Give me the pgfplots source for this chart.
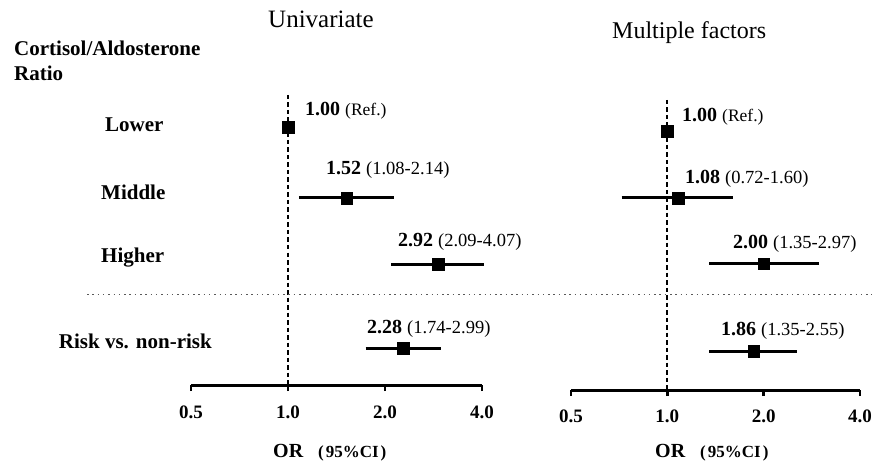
\documentclass[border=0pt]{standalone}
\usepackage{fontspec}
\setmainfont{Liberation Serif}
\usepackage{pgfplots}
\pgfplotsset{compat=1.18}
\newcommand{\fs}[1]{\fontsize{#1}{#1}\selectfont}
\newcommand{\ortitle}{\fs{20}\bfseries OR{\fs{17}\hspace{15pt}(\hspace{2pt}95\%CI\hspace{2pt})}}
\begin{document}
\begin{tikzpicture}
\path[use as bounding box] (0,0) rectangle (875pt,-462pt);
% ---------- Univariate ----------
\begin{axis}[at={(191pt,-385pt)}, anchor=south west,
  scale only axis, clip=false,
  xmode=log, log basis x=2, xmin=0.5, xmax=4,
  axis x line*=bottom, axis y line=none,
  xtick={0.5,1,2,4}, xticklabels={0.5,1.0,2.0,4.0}, minor xtick={},
  tick align=outside, major tick length=6pt,
  x axis line style={line width=3pt, black},
  every tick/.style={line width=2.4pt, black},
  xticklabel style={font=\fs{19}\bfseries, anchor=base, inner sep=0pt, yshift=-27pt},
  width=291pt, height=290pt, ymin=-385, ymax=-95]
\addplot[black, line width=2pt, dash pattern=on 4.5pt off 3pt] coordinates {(1,-95) (1,-385)};
\addplot[black, line width=3pt] coordinates {(1.08,-198) (2.14,-198)};
\addplot[black, line width=3pt] coordinates {(2.09,-264) (4.07,-264)};
\addplot[black, line width=3pt] coordinates {(1.74,-348) (2.99,-348)};
\addplot[only marks, mark=square*, mark size=5.8pt, black] coordinates {(1.00,-127) (1.52,-198) (2.92,-264) (2.28,-348)};
\end{axis}
% ---------- Multiple factors ----------
\begin{axis}[at={(571pt,-390pt)}, anchor=south west,
  scale only axis, clip=false,
  xmode=log, log basis x=2, xmin=0.5, xmax=4,
  axis x line*=bottom, axis y line=none,
  xtick={0.5,1,2,4}, xticklabels={0.5,1.0,2.0,4.0}, minor xtick={},
  tick align=outside, major tick length=6pt,
  x axis line style={line width=3pt, black},
  every tick/.style={line width=2.4pt, black},
  xticklabel style={font=\fs{19}\bfseries, anchor=base, inner sep=0pt, yshift=-26pt},
  width=289pt, height=290pt, ymin=-390, ymax=-100]
\addplot[black, line width=2pt, dash pattern=on 4.5pt off 3pt] coordinates {(1,-100) (1,-390)};
\addplot[black, line width=3pt] coordinates {(0.72,-198) (1.60,-198)};
\addplot[black, line width=3pt] coordinates {(1.35,-263.5) (2.97,-263.5)};
\addplot[black, line width=3pt] coordinates {(1.35,-351) (2.55,-351)};
\addplot[only marks, mark=square*, mark size=5.8pt, black] coordinates {(1.00,-131) (1.08,-198) (2.00,-263.5) (1.86,-351)};
\end{axis}
% separator
\draw[black!65, line width=1.5pt, dash pattern=on 1.5pt off 3.8pt] (87pt,-294.5pt) -- (872pt,-294.5pt);
% titles
\node[anchor=base west, inner sep=0] at (268pt,-28pt) {\fs{25}Univariate};
\node[anchor=base west, inner sep=0] at (612pt,-39pt) {\fs{24}Multiple factors};
% row labels
\node[anchor=base west, inner sep=0] at (14pt,-56pt) {\fs{21}\bfseries Cortisol/Aldosterone};
\node[anchor=base west, inner sep=0] at (14pt,-81pt) {\fs{21}\bfseries Ratio};
\node[anchor=base west, inner sep=0] at (105pt,-132pt) {\fs{21}\bfseries Lower};
\node[anchor=base west, inner sep=0] at (101pt,-200pt) {\fs{21}\bfseries Middle};
\node[anchor=base west, inner sep=0] at (101pt,-263pt) {\fs{21}\bfseries Higher};
\node[anchor=base east, inner sep=0] at (212pt,-348pt) {\fs{21}\bfseries Risk vs. non-risk};
% estimates, univariate
\node[anchor=base west, inner sep=0] at (305pt,-116pt) {\fs{20}\bfseries 1.00 {\fs{17.5}\mdseries(Ref.)}};
\node[anchor=base west, inner sep=0] at (326pt,-175pt) {\fs{20}\bfseries 1.52 {\fs{18.5}\mdseries(1.08-2.14)}};
\node[anchor=base west, inner sep=0] at (398pt,-247pt) {\fs{20}\bfseries 2.92 {\fs{18.5}\mdseries(2.09-4.07)}};
\node[anchor=base west, inner sep=0] at (367pt,-333pt) {\fs{20}\bfseries 2.28 {\fs{18.5}\mdseries(1.74-2.99)}};
% estimates, multiple factors
\node[anchor=base west, inner sep=0] at (682pt,-122pt) {\fs{20}\bfseries 1.00 {\fs{17.5}\mdseries(Ref.)}};
\node[anchor=base west, inner sep=0] at (685pt,-184pt) {\fs{20}\bfseries 1.08 {\fs{18.5}\mdseries(0.72-1.60)}};
\node[anchor=base west, inner sep=0] at (733pt,-249pt) {\fs{20}\bfseries 2.00 {\fs{18.5}\mdseries(1.35-2.97)}};
\node[anchor=base west, inner sep=0] at (721pt,-335.5pt) {\fs{20}\bfseries 1.86 {\fs{18.5}\mdseries(1.35-2.55)}};
% axis titles
\node[anchor=base west, inner sep=0] at (273pt,-457pt) {\ortitle};
\node[anchor=base west, inner sep=0] at (655pt,-457pt) {\ortitle};
\end{tikzpicture}
\end{document}
